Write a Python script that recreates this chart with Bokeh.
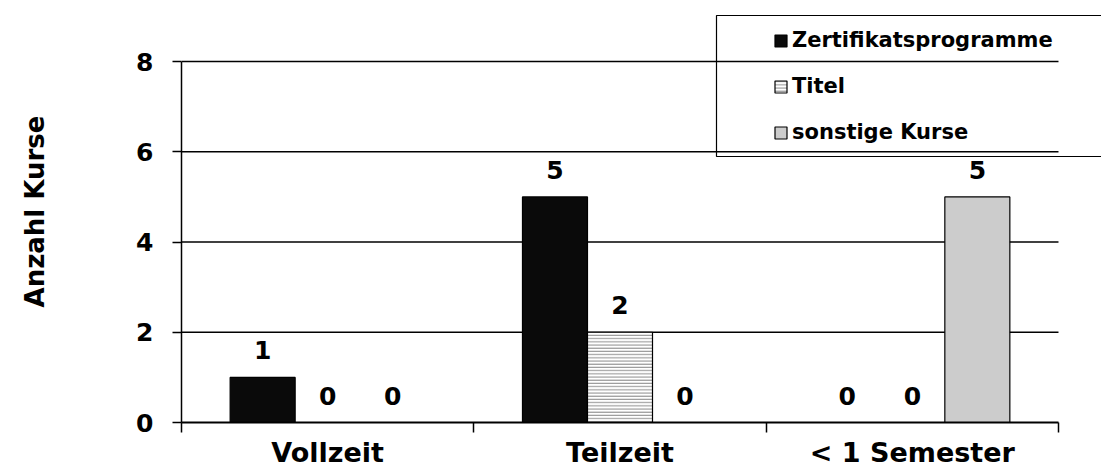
from bokeh.plotting import figure
from bokeh.models import (ColumnDataSource, FixedTicker, Legend, LegendItem,
                          Range1d, BoxAnnotation)
from bokeh.embed import file_html
from bokeh.resources import INLINE
from bokeh.core.properties import value

categories = ["Vollzeit", "Teilzeit", "< 1 Semester"]
series = ["Zertifikatsprogramme", "Titel", "sonstige Kurse"]
zertifikat = [1, 5, 0]
titel = [0, 2, 0]
sonstige = [0, 0, 5]
y_ticks = [0, 2, 4, 6, 8]

FONT = "DejaVu Sans"
BW = 0.2224
W, H = 1101, 470
FRAME_L, FRAME_B = 181, 48
CAT_PX = 292.33
UNIT_PX = 45.125
ncat = len(categories)
ymax = y_ticks[-1]

x_end = (W - FRAME_L) / CAT_PX
y_end = (H - FRAME_B) / UNIT_PX

p = figure(width=W, height=H, output_backend="svg", toolbar_location=None,
           x_range=Range1d(0, x_end), y_range=Range1d(0, y_end),
           min_border_left=FRAME_L, min_border_right=0, min_border_top=0,
           min_border_bottom=FRAME_B)
p.outline_line_color = None
p.background_fill_color = "white"
p.xgrid.grid_line_color = None
p.ygrid.grid_line_color = None

# horizontal gridlines limited to the category span
gy = y_ticks[1:]
p.segment(x0=[0] * len(gy), x1=[ncat] * len(gy), y0=gy, y1=gy,
          line_color="black", line_width=1.6)

styles = [
    dict(fill_color="#0a0a0a", line_color="black"),
    dict(fill_color="white", line_color="black", hatch_pattern="horizontal_line",
         hatch_color="#888888", hatch_scale=3.2, hatch_weight=1),
    dict(fill_color="#cccccc", line_color="black"),
]
data = [zertifikat, titel, sonstige]
renderers = []
for k, (vals, st) in enumerate(zip(data, styles)):
    xs = [i + 0.5 + (k - 1) * BW for i in range(ncat)]
    src = ColumnDataSource(dict(x=xs, top=vals, lab=[str(v) for v in vals]))
    r = p.vbar(x="x", top="top", width=BW, bottom=0, source=src, line_width=1.2, **st)
    renderers.append(r)
    p.text(x="x", y="top", text="lab", source=src, text_align="center",
           text_baseline="bottom", y_offset=-18, text_font=value(FONT),
           text_font_style="bold", text_font_size="25px", text_color="black")

# y axis
p.yaxis.ticker = FixedTicker(ticks=y_ticks)
p.yaxis.bounds = (0, ymax)
p.yaxis.axis_label = "Anzahl Kurse"
p.yaxis.axis_label_text_font = FONT
p.yaxis.axis_label_text_font_style = "bold"
p.yaxis.axis_label_text_font_size = "26px"
p.yaxis.axis_label_text_color = "black"
p.yaxis.axis_label_standoff = 83
p.yaxis.major_label_text_font = FONT
p.yaxis.major_label_text_font_style = "bold"
p.yaxis.major_label_text_font_size = "25px"
p.yaxis.major_label_text_color = "black"
p.yaxis.major_label_standoff = 19
p.yaxis.major_tick_out = 9
p.yaxis.major_tick_in = 0
p.yaxis.minor_tick_line_color = None
p.yaxis.axis_line_color = "black"
p.yaxis.axis_line_width = 1.5
p.yaxis.major_tick_line_color = "black"
p.yaxis.major_tick_line_width = 1.5

# x axis: labels at category centers, tick marks at category boundaries
centers = [i + 0.5 for i in range(ncat)]
p.xaxis.ticker = FixedTicker(ticks=centers, minor_ticks=list(range(ncat + 1)))
p.xaxis.bounds = (0, ncat)
p.xaxis.major_label_overrides = {c: lab for c, lab in zip(centers, categories)}
p.xaxis.major_tick_out = 0
p.xaxis.major_tick_in = 0
p.xaxis.major_tick_line_color = None
p.xaxis.minor_tick_out = 10
p.xaxis.minor_tick_in = 0
p.xaxis.minor_tick_line_color = "black"
p.xaxis.minor_tick_line_width = 1.5
p.xaxis.axis_line_color = "black"
p.xaxis.axis_line_width = 2
p.xaxis.major_label_text_font = FONT
p.xaxis.major_label_text_font_style = "bold"
p.xaxis.major_label_text_font_size = "27px"
p.xaxis.major_label_text_line_height = 1.0
p.xaxis.major_label_text_color = "black"
p.xaxis.major_label_standoff = 4

legend = Legend(items=[LegendItem(label=s, renderers=[r]) for s, r in zip(series, renderers)],
                location=(579, 265), padding=13, spacing=22,
                glyph_width=15, glyph_height=15, label_standoff=4,
                label_text_font=FONT, label_text_font_style="bold",
                label_text_font_size="21px", label_text_color="black", label_height=24,
                background_fill_alpha=0, border_line_alpha=0, margin=0)
p.add_layout(legend, "center")

box = BoxAnnotation(left=535, right=1000, bottom=266, top=407,
                    left_units="screen", right_units="screen",
                    top_units="screen", bottom_units="screen",
                    fill_alpha=0, line_color="black", line_width=1.2, line_alpha=1)
p.add_layout(box)

open("out.html", "w").write(file_html(p, INLINE))
